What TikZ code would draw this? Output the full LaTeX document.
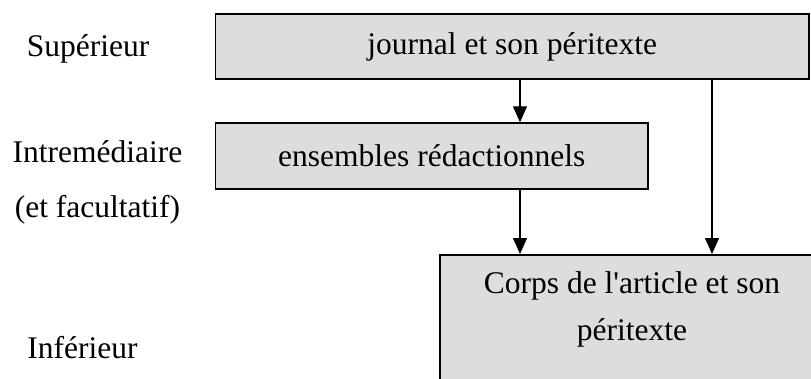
\documentclass[tikz,border=0pt]{standalone}
\usepackage{fontspec}
\setmainfont{Liberation Serif}
\usetikzlibrary{arrows.meta}
\definecolor{boxgray}{RGB}{221,221,221}
\begin{document}
\begin{tikzpicture}[x=1pt,y=-1pt,
  box/.style={draw=black, line width=1.5pt, fill=boxgray, inner sep=0pt,
              font=\fontsize{31.5}{47}\selectfont},
  lbl/.style={font=\fontsize{31.5}{47}\selectfont, inner sep=0pt},
  arr/.style={line width=1.3pt, -{Triangle[length=16pt,width=14pt]}}]
\useasboundingbox (0,0) rectangle (811,378);
\clip (0,0) rectangle (811,378);
% boxes
\node[box, minimum width=593.5, minimum height=65] (top) at (512.25,46.5) {journal et son péritexte};
\node[box, minimum width=432.5, minimum height=66] (mid) at (431.75,156) {ensembles rédactionnels};
\node[box, anchor=north west, minimum width=400, minimum height=150] (corps) at (439,254) {};
\node[lbl, align=center] (corpstxt) at (632,309) {Corps de l\textquotesingle article et son\\péritexte};
% level labels
\node[lbl, anchor=base] (sup) at (88,56) {Supérieur};
\node[lbl, anchor=base] (inter) at (97.5,162) {Intremédiaire};
\node[lbl, anchor=base] (facult) at (97.5,217) {(et facultatif)};
\node[lbl, anchor=base] (inf) at (82.5,358) {Inférieur};
% connectors
\coordinate (xa) at (520,0);
\coordinate (xb) at (712,0);
\draw[arr] (top.south -| xa) -- (mid.north -| xa);
\draw[arr] (top.south -| xb) -- (corps.north -| xb);
\draw[arr] (mid.south -| xa) -- (corps.north -| xa);
\end{tikzpicture}
\end{document}
